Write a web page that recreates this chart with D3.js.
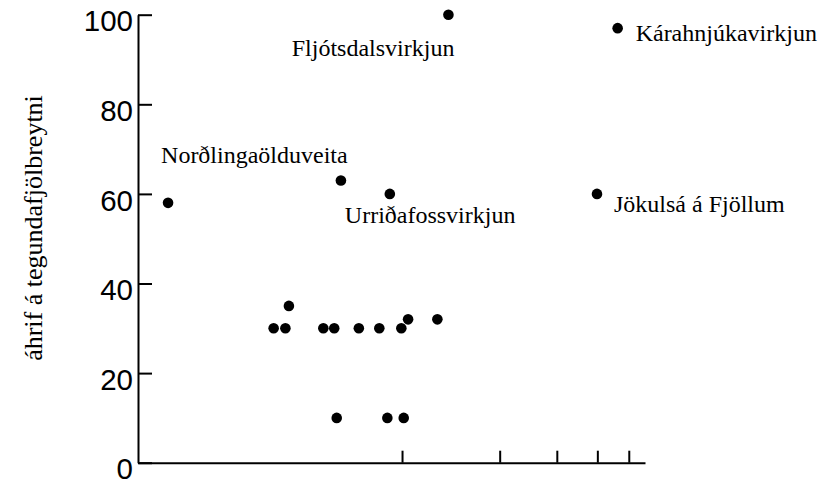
<!DOCTYPE html>
<html><head><meta charset="utf-8">
<script src="https://cdn.jsdelivr.net/npm/d3@7"></script>
<style>
body{margin:0;background:#fff;}
svg{display:block;}
</style></head>
<body>
<svg id="chart" width="837" height="485"></svg>
<script>
// Data: x = energy (GWh/yr, log scale), y = impact on species diversity
const names = ["Norðlingaölduveita","","Urriðafossvirkjun","Fljótsdalsvirkjun","Kárahnjúkavirkjun","Jökulsá á Fjöllum",
  "","","","","","","","","","","","",""];
const xValues = [190, 648, 917, 1390, 4620, 3990, 402, 437, 448, 572, 618, 736, 851, 995, 1044, 1285, 629, 901, 1012];
const yValues = [58, 63, 60, 100, 97, 60, 30, 30, 35, 30, 30, 30, 30, 30, 32, 32, 10, 10, 10];
const yTicks = [0, 20, 40, 60, 80, 100];
const xTicks = [1000, 2000, 3000, 4000, 5000];
const yTitle = "áhrif á tegundafjölbreytni";

// layout for labels (offsets relative to the dot)
const labelLayout = {
  "Norðlingaölduveita": {dx: -7, dy: -40, anchor: "start"},
  "Fljótsdalsvirkjun": {dx: 6, dy: 41, anchor: "end"},
  "Urriðafossvirkjun": {dx: -45, dy: 29, anchor: "start"},
  "Kárahnjúkavirkjun": {dx: 18, dy: 13, anchor: "start"},
  "Jökulsá á Fjöllum": {dx: 17, dy: 18, anchor: "start"}
};

const svg = d3.select("#chart");
const x = d3.scaleLog().domain([153.5, 5610]).range([138, 645]);
const y = d3.scaleLinear().domain([0, 100]).range([462.7, 14.7]);

const data = xValues.map((v, i) => ({x: v, y: yValues[i], name: names[i]}));

// Y axis
const yAxis = svg.append("g").attr("transform", "translate(138,0)")
  .call(d3.axisLeft(y).tickValues(yTicks).tickSizeInner(-14).tickSizeOuter(0).tickPadding(5));
yAxis.select(".domain").attr("stroke", "#000").attr("stroke-width", 2);
yAxis.selectAll(".tick line").attr("stroke", "#000").attr("stroke-width", 2);
yAxis.selectAll(".tick text").attr("fill", "#000")
  .attr("font-family", "'Liberation Sans', Arial, sans-serif").attr("font-size", 29.5).attr("dy", "0.55em");

// X axis
const xAxis = svg.append("g").attr("transform", "translate(0,462.7)")
  .call(d3.axisBottom(x).tickValues(xTicks).tickSizeInner(-12).tickSizeOuter(0).tickFormat(""));
xAxis.select(".domain").attr("stroke", "#000").attr("stroke-width", 2);
xAxis.selectAll(".tick line").attr("stroke", "#000").attr("stroke-width", 2);

// Y title
svg.append("text")
  .attr("transform", "translate(42,228) rotate(-90)")
  .attr("text-anchor", "middle")
  .attr("font-family", "'Liberation Serif', 'Times New Roman', serif")
  .attr("font-size", 26).attr("fill", "#000")
  .text(yTitle);

// Dots
svg.append("g").selectAll("circle").data(data).join("circle")
  .attr("cx", d => x(d.x)).attr("cy", d => y(d.y)).attr("r", 5.3).attr("fill", "#000");

// Labels
svg.append("g").selectAll("text").data(data.filter(d => d.name)).join("text")
  .attr("x", d => x(d.x) + labelLayout[d.name].dx)
  .attr("y", d => y(d.y) + labelLayout[d.name].dy)
  .attr("text-anchor", d => labelLayout[d.name].anchor)
  .attr("font-family", "'Liberation Serif', 'Times New Roman', serif")
  .attr("font-size", 24).attr("fill", "#000")
  .text(d => d.name);
</script>
</body></html>
